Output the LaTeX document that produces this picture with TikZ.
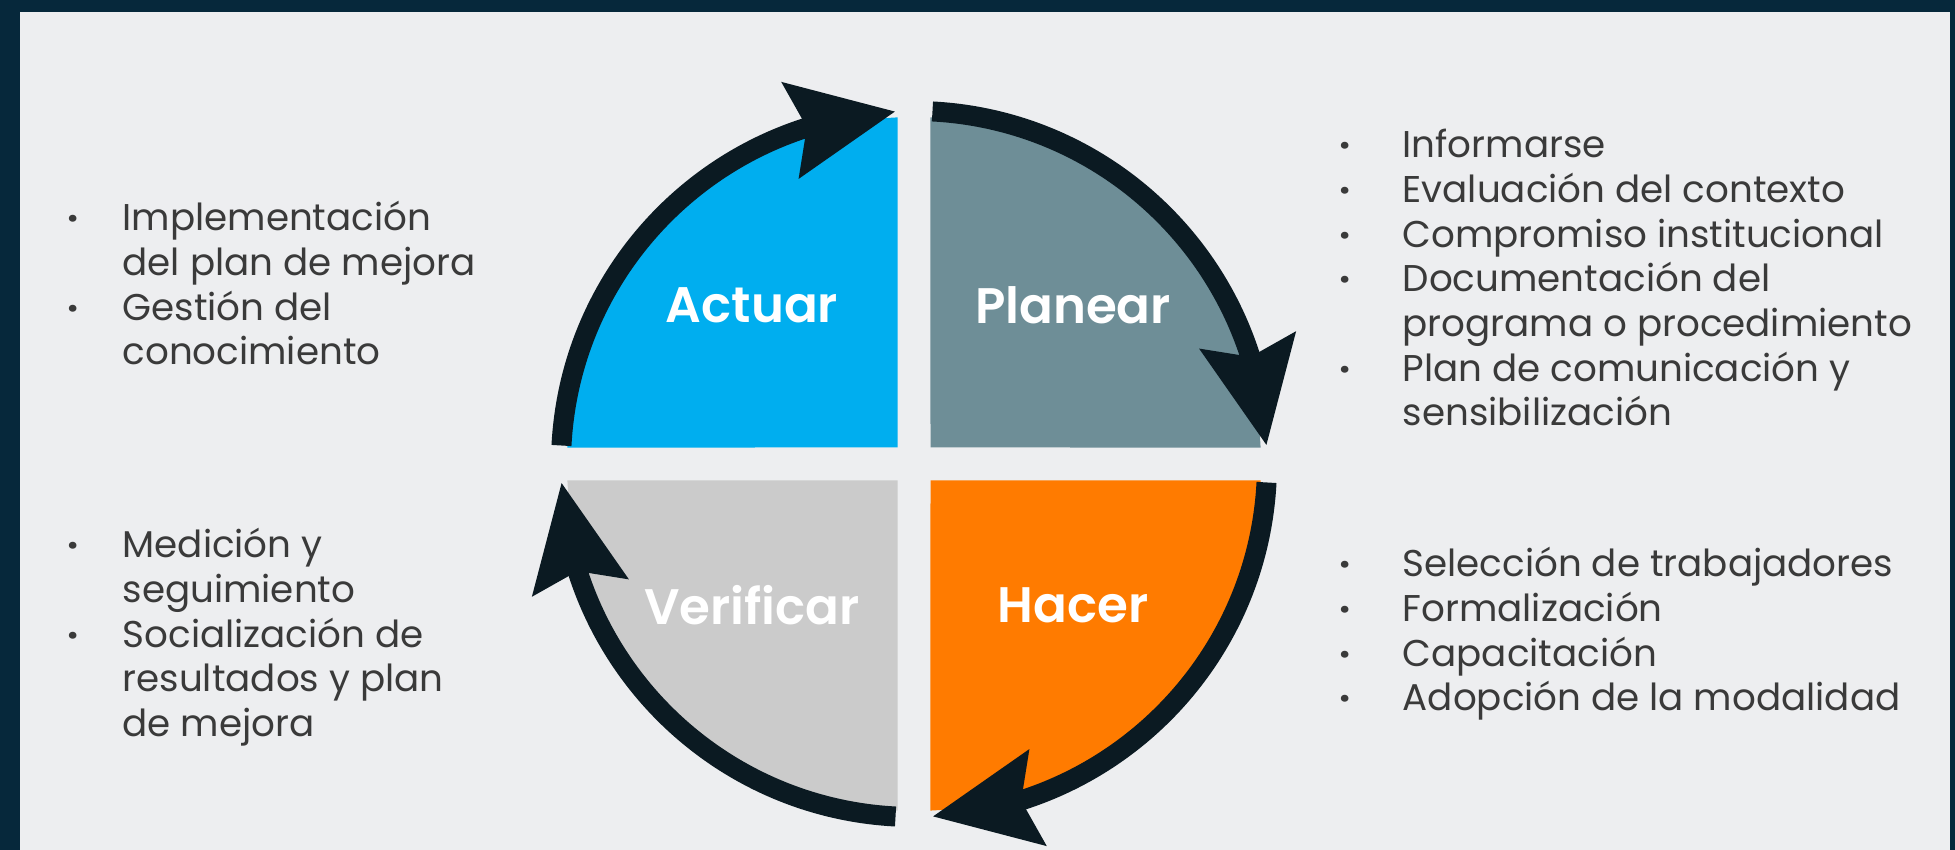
\documentclass[tikz,border=0pt]{standalone}
\usepackage{fontspec}
\setmainfont{Poppins}
\newfontfamily\quadfont{Poppins SemiBold}
\usetikzlibrary{arrows.meta, bending}
\definecolor{frame}{HTML}{06283B}
\definecolor{paper}{HTML}{EDEEF0}
\definecolor{actuar}{HTML}{00AEEF}
\definecolor{planear}{HTML}{6E8E97}
\definecolor{hacer}{HTML}{FF7B00}
\definecolor{verificar}{HTML}{CBCBCB}
\definecolor{ink}{HTML}{0B1A22}
\definecolor{txt}{HTML}{3A3A3A}
\newcommand{\dotitem}{{\bfseries ·}}

\begin{document}
\begin{tikzpicture}[
    quad/.style = {font=\quadfont\fontsize{14.2}{17}\selectfont, text=white},
    list/.style = {anchor=base west, inner sep=0pt, text=txt, font=\fontsize{10.6}{12.7}\selectfont},
    loopline/.style = {draw=ink, line width=2mm, -{Stealth[length=10.5mm, width=9.4mm, inset=1.5mm, flex]}}
    ]
    \fill[frame] (-9.14,-3.86) rectangle (10.41,4.64);
    \fill[paper] (-8.94,-3.86) rectangle (10.36,4.52);
    \foreach \a/\c in {0/planear, 90/actuar, 180/verificar, 270/hacer}
        \fill[\c, rotate=\a] (0.165,0.165) -- (87.28:3.47) arc[start angle=87.28, end angle=2.72, radius=3.47] -- cycle;
    \foreach \a in {0, 90, 180, 270}
        \draw[loopline] ({\a+87}:3.53) arc[start angle=\a+87, end angle=\a+3, radius=3.53];
    \node[quad] (A) at (-1.62,1.59) {Actuar};
    \node[quad] (P) at (1.59,1.59) {Planear};
    \node[quad] (V) at (-1.62,-1.41) {Verificar};
    \node[quad] (H) at (1.59,-1.41) {Hacer};
    \node[list] (LA) at (-8.47,2.33) {\begin{tabular}[t]{@{}p{0.55cm}@{}l@{}}
        \dotitem & Implementación\\ & del plan de mejora\\
        \dotitem & Gestión del\\ & conocimiento
    \end{tabular}};
    \node[list] (LP) at (4.25,3.06) {\begin{tabular}[t]{@{}p{0.63cm}@{}l@{}}
        \dotitem & Informarse\\
        \dotitem & Evaluación del contexto\\
        \dotitem & Compromiso institucional\\
        \dotitem & Documentación del\\ & programa o procedimiento\\
        \dotitem & Plan de comunicación y\\ & sensibilización
    \end{tabular}};
    \node[list] (LV) at (-8.47,-0.94) {\begin{tabular}[t]{@{}p{0.55cm}@{}l@{}}
        \dotitem & Medición y\\ & seguimiento\\
        \dotitem & Socialización de\\ & resultados y plan\\ & de mejora
    \end{tabular}};
    \node[list] (LH) at (4.25,-1.13) {\begin{tabular}[t]{@{}p{0.63cm}@{}l@{}}
        \dotitem & Selección de trabajadores\\
        \dotitem & Formalización\\
        \dotitem & Capacitación\\
        \dotitem & Adopción de la modalidad
    \end{tabular}};
\end{tikzpicture}
\end{document}
